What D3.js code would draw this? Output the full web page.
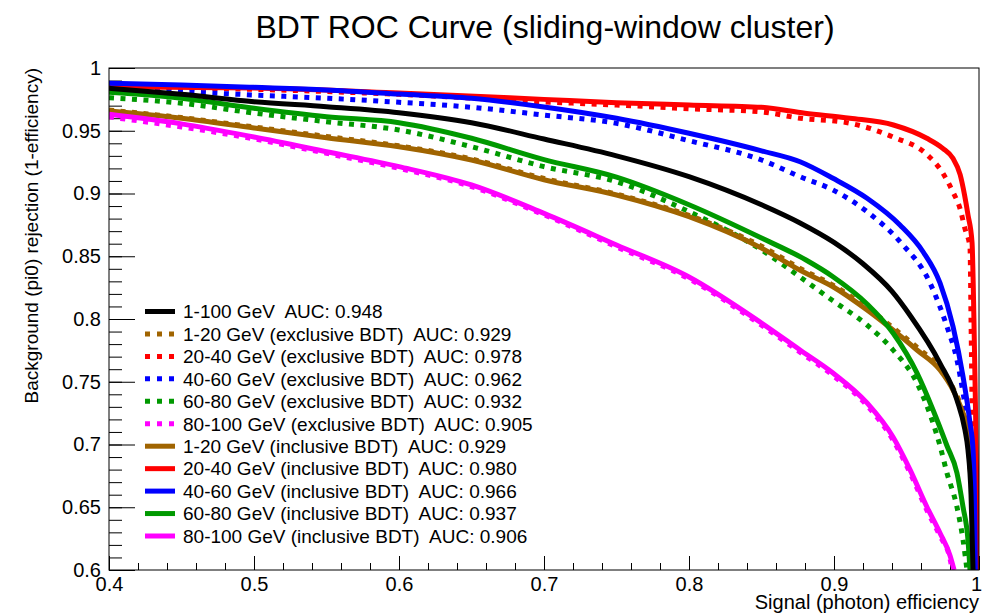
<!DOCTYPE html>
<html>
<head>
<meta charset="utf-8">
<script src="https://cdn.jsdelivr.net/npm/d3@7"></script>
<style>
  body { margin: 0; background: #fff; }
  text { font-family: "Liberation Sans", Arial, Helvetica, sans-serif; fill: #000; }
</style>
</head>
<body>
<div id="chart"></div>
<script>
const WIDTH = 982, HEIGHT = 614
const MARGIN = { top: 68, right: 3, bottom: 44, left: 109 }

// ROC points: [signal efficiency, background rejection]
const roc_1_100 = [[0.40,0.9838],[0.45,0.979],[0.50,0.9731],[0.55,0.9692],[0.60,0.9644],[0.65,0.9564],[0.70,0.9434],[0.75,0.930],[0.80,0.9134],[0.85,0.891],[0.8766,0.8765],[0.90,0.861],[0.92,0.844],[0.94,0.822],[0.9524,0.803],[0.9731,0.7647],[0.9848,0.7355],[0.9903,0.7116],[0.9924,0.6956],[0.9945,0.660],[0.9959,0.60]]

const excl_1_20 = [[0.40,0.9665],[0.45,0.9605],[0.50,0.9530],[0.55,0.9455],[0.60,0.9380],[0.65,0.9275],[0.70,0.9120],[0.75,0.8995],[0.80,0.8825],[0.85,0.8580],[0.878,0.8395],[0.8993,0.8270],[0.9228,0.8090],[0.9407,0.7930],[0.9572,0.7775],[0.9731,0.7610],[0.9821,0.7450],[0.989,0.7260],[0.991,0.718],[0.994,0.68],[0.997,0.63],[0.999,0.60]]
const excl_20_40 = [[0.40,0.9850],[0.50,0.9830],[0.60,0.9790],[0.70,0.9730],[0.75,0.9705],[0.80,0.9675],[0.85,0.9650],[0.8766,0.9600],[0.911,0.9560],[0.9407,0.9450],[0.9641,0.9310],[0.9752,0.9160],[0.9821,0.9010],[0.9869,0.8880],[0.9903,0.8720],[0.9938,0.8570],[0.9945,0.80],[0.9955,0.70],[0.9965,0.60]]
const excl_40_60 = [[0.40,0.9838],[0.45,0.9811],[0.50,0.9785],[0.55,0.9759],[0.60,0.9727],[0.65,0.9687],[0.70,0.9625],[0.75,0.9559],[0.80,0.9421],[0.85,0.9267],[0.8766,0.9134],[0.8993,0.9028],[0.9228,0.8855],[0.9455,0.8616],[0.9662,0.8287],[0.9779,0.7939],[0.9848,0.7673],[0.989,0.741],[0.9924,0.7139],[0.995,0.66],[0.9965,0.60]]
const excl_60_80 = [[0.40,0.9763],[0.45,0.9719],[0.50,0.9641],[0.55,0.9572],[0.60,0.9506],[0.65,0.9373],[0.70,0.9214],[0.75,0.9094],[0.80,0.8855],[0.85,0.855],[0.8766,0.8335],[0.8993,0.8145],[0.9228,0.7952],[0.9407,0.7753],[0.9572,0.749],[0.9683,0.7171],[0.9731,0.699],[0.9779,0.6773],[0.9848,0.6502],[0.989,0.6239],[0.9917,0.60]]
const excl_80_100 = [[0.40,0.9610],[0.45,0.9530],[0.50,0.9435],[0.55,0.9320],[0.60,0.9200],[0.65,0.9055],[0.70,0.8830],[0.75,0.8575],[0.80,0.8320],[0.85,0.7950],[0.8766,0.7735],[0.8993,0.7550],[0.9228,0.7310],[0.9407,0.7035],[0.9524,0.6775],[0.9641,0.6475],[0.9731,0.6270],[0.98,0.6090],[0.9815,0.60]]

const incl_1_20 = [[0.40,0.9657],[0.45,0.960],[0.50,0.9522],[0.55,0.9445],[0.60,0.9373],[0.65,0.9267],[0.70,0.911],[0.75,0.8988],[0.80,0.8815],[0.85,0.8565],[0.878,0.838],[0.8993,0.8257],[0.9228,0.8072],[0.9407,0.7912],[0.9572,0.7753],[0.9731,0.7594],[0.9821,0.7434],[0.989,0.7251],[0.991,0.718],[0.994,0.68],[0.997,0.63],[0.999,0.60]]
const incl_20_40 = [[0.40,0.985],[0.50,0.984],[0.60,0.980],[0.70,0.975],[0.75,0.9724],[0.80,0.9705],[0.85,0.9687],[0.88,0.964],[0.911,0.960],[0.941,0.9546],[0.964,0.944],[0.975,0.936],[0.982,0.928],[0.987,0.915],[0.990,0.899],[0.9924,0.883],[0.9952,0.861],[0.9965,0.80],[0.998,0.70],[0.9995,0.60]]
const incl_40_60 = [[0.40,0.9878],[0.45,0.9865],[0.50,0.9846],[0.55,0.9825],[0.60,0.9793],[0.65,0.9759],[0.70,0.9690],[0.75,0.9600],[0.80,0.9480],[0.85,0.9340],[0.8766,0.9253],[0.8993,0.9121],[0.9228,0.8962],[0.9455,0.8749],[0.9614,0.8536],[0.9731,0.8287],[0.9821,0.7939],[0.989,0.754],[0.9938,0.7171],[0.9959,0.6956],[0.997,0.65],[0.9975,0.60]]
const incl_60_80 = [[0.40,0.9806],[0.45,0.9759],[0.50,0.968],[0.55,0.9612],[0.60,0.9564],[0.65,0.944],[0.70,0.927],[0.75,0.9130],[0.80,0.891],[0.85,0.8645],[0.8807,0.847],[0.8993,0.8337],[0.9228,0.812],[0.9407,0.7888],[0.9572,0.757],[0.9683,0.7275],[0.9779,0.699],[0.9848,0.6773],[0.989,0.6502],[0.9924,0.6239],[0.9938,0.60]]
const incl_80_100 = [[0.40,0.9631],[0.45,0.9555],[0.50,0.945],[0.55,0.9333],[0.60,0.9214],[0.65,0.9068],[0.70,0.8842],[0.75,0.859],[0.80,0.8335],[0.85,0.7968],[0.8766,0.7753],[0.8993,0.757],[0.9228,0.7331],[0.9407,0.706],[0.9524,0.680],[0.9641,0.6502],[0.9731,0.6295],[0.98,0.6115],[0.9828,0.60]]

// legend order
const seriesLabels = [
  '1-100 GeV  AUC: 0.948',
  '1-20 GeV (exclusive BDT)  AUC: 0.929',
  '20-40 GeV (exclusive BDT)  AUC: 0.978',
  '40-60 GeV (exclusive BDT)  AUC: 0.962',
  '60-80 GeV (exclusive BDT)  AUC: 0.932',
  '80-100 GeV (exclusive BDT)  AUC: 0.905',
  '1-20 GeV (inclusive BDT)  AUC: 0.929',
  '20-40 GeV (inclusive BDT)  AUC: 0.980',
  '40-60 GeV (inclusive BDT)  AUC: 0.966',
  '60-80 GeV (inclusive BDT)  AUC: 0.937',
  '80-100 GeV (inclusive BDT)  AUC: 0.906',
]
const seriesData = [roc_1_100, excl_1_20, excl_20_40, excl_40_60, excl_60_80, excl_80_100,
  incl_1_20, incl_20_40, incl_40_60, incl_60_80, incl_80_100]
const seriesColors = ['#000000', '#a06400', '#ff0000', '#0000ff', '#009900', '#ff00ff',
  '#a06400', '#ff0000', '#0000ff', '#009900', '#ff00ff']
const seriesDotted = [false, true, true, true, true, true, false, false, false, false, false]

const xTickValues = [0.4, 0.5, 0.6, 0.7, 0.8, 0.9, 1.0]
const xTickLabels = ['0.4', '0.5', '0.6', '0.7', '0.8', '0.9', '1']
const yTickValues = [0.6, 0.65, 0.7, 0.75, 0.8, 0.85, 0.9, 0.95, 1.0]
const yTickLabels = ['0.6', '0.65', '0.7', '0.75', '0.8', '0.85', '0.9', '0.95', '1']

const W = WIDTH - MARGIN.left - MARGIN.right
const H = HEIGHT - MARGIN.top - MARGIN.bottom

const svg = d3.select('#chart').append('svg').attr('width', WIDTH).attr('height', HEIGHT)
svg.append('rect').attr('width', WIDTH).attr('height', HEIGHT).attr('fill', '#fff')

const g = svg.append('g').attr('transform', `translate(${MARGIN.left},${MARGIN.top})`)

const x = d3.scaleLinear().domain([0.4, 1.0]).range([0, W])
const y = d3.scaleLinear().domain([0.6, 1.0]).range([H, 0])

svg.append('defs').append('clipPath').attr('id', 'plot-clip')
  .append('rect').attr('width', W).attr('height', H)

// ── axes (ticks point inward, ROOT style) ───────────────────────
const xMinor = d3.range(0.4, 1.0001, 0.02).map(v => +v.toFixed(2))
const yMinor = d3.range(0.6, 1.0001, 0.01).map(v => +v.toFixed(2))

g.append('g').attr('transform', `translate(0,${H})`)
  .call(d3.axisBottom(x).tickValues(xMinor).tickSizeInner(-7).tickSizeOuter(0).tickFormat(''))
g.append('g').attr('class', 'x-axis').attr('transform', `translate(0,${H})`)
  .call(d3.axisBottom(x).tickValues(xTickValues).tickSizeInner(-14).tickSizeOuter(0).tickPadding(7)
    .tickFormat((d, i) => xTickLabels[i]))
g.append('g')
  .call(d3.axisLeft(y).tickValues(yMinor).tickSizeInner(-13).tickSizeOuter(0).tickFormat(''))
g.append('g').attr('class', 'y-axis')
  .call(d3.axisLeft(y).tickValues(yTickValues).tickSizeInner(-26).tickSizeOuter(0).tickPadding(8)
    .tickFormat((d, i) => yTickLabels[i]))

g.selectAll('.domain').remove()
g.selectAll('.tick line').attr('stroke', '#000').attr('stroke-width', 1)
g.selectAll('.tick text').style('font-size', '20px').style('font-family', '"Liberation Sans", Arial, sans-serif').attr('fill', '#000')
// keep the last x label ("1") inside the canvas
g.selectAll('.x-axis .tick text').filter(d => d === 1.0).attr('dx', -3)

// ── curves ──────────────────────────────────────────────────────
const line = d3.line().x(d => x(d[0])).y(d => y(d[1])).curve(d3.curveMonotoneX)
const gCurves = g.append('g').attr('clip-path', 'url(#plot-clip)')
// dotted first, then solid, the 1-100 GeV curve on top
const drawOrder = [1, 2, 3, 4, 5, 6, 7, 8, 9, 10, 0]
drawOrder.forEach(i => {
  gCurves.append('path')
    .datum(seriesData[i])
    .attr('d', line)
    .attr('fill', 'none')
    .attr('stroke', seriesColors[i])
    .attr('stroke-width', 5)
    .attr('stroke-linejoin', 'round')
    .attr('stroke-dasharray', seriesDotted[i] ? '5 6.5' : null)
})

// frame
g.append('rect').attr('width', W).attr('height', H)
  .attr('fill', 'none').attr('stroke', '#000').attr('stroke-width', 1)

// ── legend ──────────────────────────────────────────────────────
const LEG = { x1: 36, x2: 66, tx: 74, y0: 243.5, dy: 22.45 }
const gLeg = g.append('g').attr('class', 'legend')
seriesLabels.forEach((label, i) => {
  const yy = LEG.y0 + i * LEG.dy
  gLeg.append('line')
    .attr('x1', LEG.x1).attr('x2', LEG.x2).attr('y1', yy).attr('y2', yy)
    .attr('stroke', seriesColors[i]).attr('stroke-width', 5)
    .attr('stroke-dasharray', seriesDotted[i] ? '5 7' : null)
  gLeg.append('text')
    .attr('x', LEG.tx).attr('y', yy).attr('dy', '0.36em')
    .attr('xml:space', 'preserve')
    .style('font-size', '19px')
    .text(label)
})

// ── titles ──────────────────────────────────────────────────────
svg.append('text').attr('x', 545).attr('y', 38).attr('text-anchor', 'middle')
  .style('font-size', '32px').text('BDT ROC Curve (sliding-window cluster)')

svg.append('text').attr('x', MARGIN.left + W).attr('y', 609).attr('text-anchor', 'end')
  .style('font-size', '20px').text('Signal (photon) efficiency')

svg.append('text').attr('transform', `translate(38,${MARGIN.top}) rotate(-90)`)
  .attr('text-anchor', 'end')
  .style('font-size', '19px').text('Background (pi0) rejection (1-efficiency)')
</script>
</body>
</html>
